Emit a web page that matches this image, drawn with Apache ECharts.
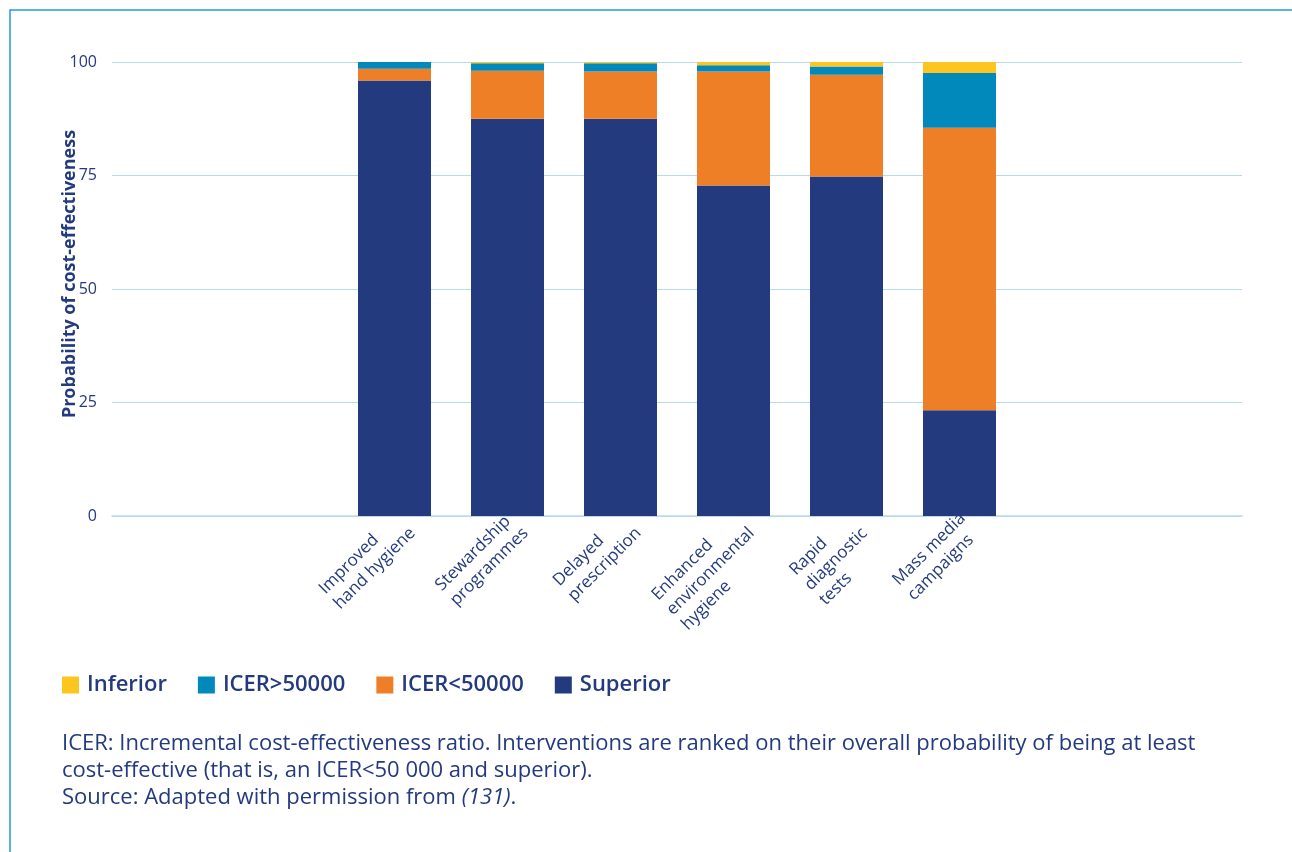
<!DOCTYPE html>
<html>
<head>
<meta charset="utf-8">
<script src="https://cdn.jsdelivr.net/npm/echarts@6/dist/echarts.min.js"></script>
<style>
  html, body { margin: 0; padding: 0; background: #fff; }
  #chart { width: 1292px; height: 852px; }
</style>
</head>
<body>
<div id="chart"></div>
<script>
// interventions, in order of the bars
const categories = [
  "Improved\nhand hygiene",
  "Stewardship\nprogrammes",
  "Delayed\nprescription",
  "Enhanced\nenvironmental\nhygiene",
  "Rapid\ndiagnostic\ntests",
  "Mass media\ncampaigns"
];

// probability (%) per outcome, stacked bottom to top
const superior = [95.9, 87.5, 87.5, 72.8, 74.8, 23.3];
const icerBelow = [2.6, 10.6, 10.4, 25.1, 22.4, 62.2];
const icerAbove = [1.5, 1.6, 1.8, 1.4, 1.8, 12.1];
const inferior = [0, 0.3, 0.3, 0.7, 1.0, 2.4];

const yTicks = [0, 25, 50, 75, 100];

const NAVY = "#233a7e";
const FONT = "Open Sans";

// two empty slots on each side of the bars
const pad = (arr, fill) => [fill, fill, ...arr, fill, fill];
const xData = pad(categories, "");

function bar(name, values, color) {
  return {
    name: name,
    type: "bar",
    stack: "total",
    barWidth: 73,
    itemStyle: { color: color },
    data: pad(values, "-")
  };
}

const chart = echarts.init(document.getElementById("chart"));

const option = {
  backgroundColor: "#ffffff",
  animation: false,
  textStyle: { fontFamily: FONT },
  graphic: [
    {
      type: "rect",
      shape: { x: 10, y: 10, width: 1400, height: 1000 },
      style: { fill: "none", stroke: "#1f9fd1", lineWidth: 1.5 }
    }
  ],
  title: {
    left: 57,
    top: 725,
    text: "ICER: Incremental cost-effectiveness ratio. Interventions are ranked on their overall probability of being at least\n" +
      "cost-effective (that is, an ICER<50 000 and superior).\n" +
      "Source: Adapted with permission from {i|(131)}.",
    textStyle: {
      fontFamily: FONT,
      fontSize: 22,
      fontWeight: "normal",
      color: NAVY,
      lineHeight: 27,
      rich: {
        i: { fontStyle: "italic", fontSize: 22, lineHeight: 27, color: NAVY, fontFamily: FONT }
      }
    }
  },
  legend: {
    left: 57,
    top: 669,
    itemWidth: 17,
    itemHeight: 17,
    itemGap: 31,
    icon: "rect",
    data: ["Inferior", "ICER>50000", "ICER<50000", "Superior"],
    textStyle: { fontSize: 22, fontWeight: 600, color: NAVY, fontFamily: FONT, padding: [0, 0, 0, 3] }
  },
  grid: { left: 112, right: 50, top: 62, bottom: 336, containLabel: false },
  xAxis: {
    type: "category",
    data: xData,
    axisLine: { show: true, lineStyle: { color: "#b9dbe9", width: 1.5 } },
    axisTick: { show: false },
    axisLabel: {
      interval: 0,
      rotate: 45,
      align: "right",
      verticalAlign: "top",
      margin: -12,
      padding: [0, 6, 0, 0],
      color: NAVY,
      fontSize: 17,
      lineHeight: 21,
      formatter: (v) => v.split("\n").map((s) => "{c|" + s + "}").join("\n"),
      rich: { c: { align: "left", fontSize: 17, lineHeight: 21, color: NAVY, fontFamily: FONT } }
    }
  },
  yAxis: {
    type: "value",
    min: yTicks[0],
    max: yTicks[yTicks.length - 1],
    interval: 25,
    name: "Probability of cost-effectiveness",
    nameLocation: "middle",
    nameGap: 33,
    nameMoveOverlap: false,
    nameTextStyle: { fontSize: 18, fontWeight: "bold", color: NAVY, fontFamily: FONT, padding: [0, 0, 0, 30] },
    axisLine: { show: false },
    axisTick: { show: false },
    axisLabel: { color: NAVY, fontSize: 16, margin: 15, fontFamily: FONT },
    splitLine: { lineStyle: { color: "#b9dbe9", width: 1.2 } }
  },
  series: [
    bar("Superior", superior, "#233a7e"),
    bar("ICER<50000", icerBelow, "#ef7f26"),
    bar("ICER>50000", icerAbove, "#0289bc"),
    bar("Inferior", inferior, "#fdc51f")
  ]
};

chart.setOption(option);
</script>
</body>
</html>
